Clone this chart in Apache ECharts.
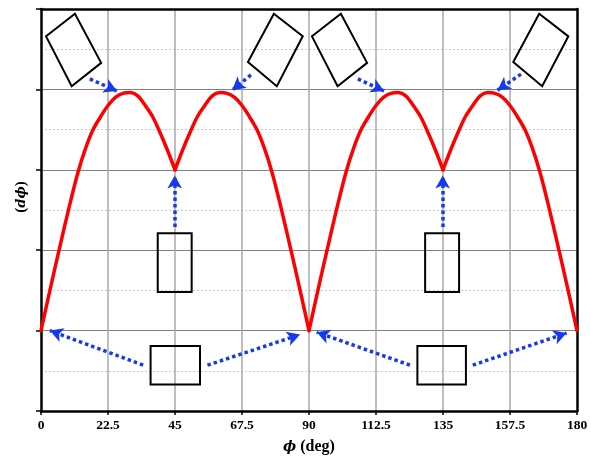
<!DOCTYPE html>
<html>
<head>
<meta charset="utf-8">
<script src="https://cdn.jsdelivr.net/npm/echarts@6/dist/echarts.min.js"></script>
<style>html,body{margin:0;padding:0;background:#fff}#c{width:591px;height:460px}</style>
</head>
<body>
<div id="c"></div>
<script>
// ---- data ----
const phi = [0,2.5,5,7.5,10,12.5,15,17.5,20,22.5,25,27.5,30,32.5,35,37.5,40,42.5,45,
  47.5,50,52.5,55,57.5,60,62.5,65,67.5,70,72.5,75,77.5,80,82.5,85,87.5,90,
  92.5,95,97.5,100,102.5,105,107.5,110,112.5,115,117.5,120,122.5,125,127.5,130,132.5,135,
  137.5,140,142.5,145,147.5,150,152.5,155,157.5,160,162.5,165,167.5,170,172.5,175,177.5,180];
const dphi = [1.0,1.42,1.83,2.23,2.62,2.98,3.27,3.5,3.66,3.8,3.9,3.95,3.96,3.92,3.8,3.66,3.46,3.24,3.0,
  3.24,3.46,3.66,3.8,3.92,3.96,3.95,3.9,3.8,3.66,3.5,3.27,2.98,2.62,2.23,1.83,1.42,1.0,
  1.42,1.83,2.23,2.62,2.98,3.27,3.5,3.66,3.8,3.9,3.95,3.96,3.92,3.8,3.66,3.46,3.24,3.0,
  3.24,3.46,3.66,3.8,3.92,3.96,3.95,3.9,3.8,3.66,3.5,3.27,2.98,2.62,2.23,1.83,1.42,1.0];
// cusp positions (curve is smooth between them)
const cusps = [0,45,90,135,180];
const xTicks = [0,22.5,45,67.5,90,112.5,135,157.5,180];

// annotation boxes (corners in data units: [phi, value])
const boxes = [
  [[1.7,4.66],[11.4,4.94],[20.2,4.33],[10.3,4.04]],
  [[78.2,4.94],[87.9,4.66],[79.2,4.04],[69.5,4.34]],
  [[91.0,4.66],[100.7,4.94],[109.5,4.33],[99.6,4.04]],
  [[167.3,4.94],[177.1,4.66],[168.3,4.04],[158.6,4.34]],
  [[39.2,2.21],[50.6,2.21],[50.6,1.48],[39.2,1.48]],
  [[129.0,2.21],[140.4,2.21],[140.4,1.48],[129.0,1.48]],
  [[36.8,0.81],[53.4,0.81],[53.4,0.33],[36.8,0.33]],
  [[126.4,0.81],[142.7,0.81],[142.7,0.33],[126.4,0.33]]
];
// annotation arrows: [from, to]
const arrows = [
  [[16.4,4.13],[25.5,3.98]],
  [[70.5,4.18],[64.2,3.99]],
  [[106.4,4.13],[115.2,3.98]],
  [[161.2,4.19],[153.3,3.99]],
  [[44.9,2.29],[44.9,2.93]],
  [[134.9,2.29],[134.9,2.93]],
  [[34.3,0.57],[3.0,1.0]],
  [[55.9,0.57],[87.0,0.95]],
  [[123.9,0.57],[92.6,0.98]],
  [[145.0,0.57],[176.5,0.97]]
];

const chart = echarts.init(document.getElementById('c'), null, {renderer:'canvas'});
const labelFont = {fontFamily:'Liberation Serif', fontWeight:'bold', fontSize:13.5, color:'#000'};

const humps = [];
for (let k = 0; k < cusps.length - 1; k++) {
  const seg = [];
  phi.forEach((p,i)=>{ if (p >= cusps[k] && p <= cusps[k+1]) seg.push([p, dphi[i]]); });
  humps.push({
    type:'line', xAxisIndex:0, yAxisIndex:0, data:seg,
    showSymbol:false, symbol:'none', smooth:0.35,
    lineStyle:{color:'#ff0000', width:3.5, join:'round', cap:'round'}, z:3, silent:true
  });
}

humps[0].markLine = {
  silent:true, animation:false,
  symbol:['none','arrow'], symbolSize:[11,13],
  label:{show:false},
  lineStyle:{color:'#1538f0', width:3.5, type:[3.5,3], opacity:1},
  emphasis:{disabled:true},
  data:arrows.map(a=>[{coord:a[0]},{coord:a[1]}])
};

chart.setOption({
  animation:false,
  backgroundColor:'#fff',
  grid:{left:41, right:14, top:9, bottom:49, show:false},
  xAxis:[{
    type:'value', min:0, max:180, interval:22.5,
    axisLine:{show:true, onZero:false, lineStyle:{color:'#000', width:2.5}},
    axisTick:{show:true, length:4, lineStyle:{color:'#000', width:1.5}},
    axisLabel:Object.assign({margin:8, formatter:v=>String(v)}, labelFont),
    splitLine:{show:true, showMinLine:false, showMaxLine:false, lineStyle:{color:'#a8a8a8', width:1.5}},
    name:'{i|ϕ} (deg)', nameLocation:'middle', nameGap:28,
    nameTextStyle:{fontFamily:'Liberation Serif', fontWeight:'bold', fontSize:16, color:'#000',
      rich:{i:{fontFamily:'DejaVu Serif', fontStyle:'italic', fontWeight:'bold', fontSize:14, color:'#000'}}}
  },{
    type:'value', position:'top', min:0, max:180, interval:22.5,
    axisLine:{show:true, onZero:false, lineStyle:{color:'#000', width:2.5}},
    axisTick:{show:false}, axisLabel:{show:false}, splitLine:{show:false}
  }],
  yAxis:[{
    type:'value', min:0, max:5, interval:1,
    axisLine:{show:true, onZero:false, lineStyle:{color:'#000', width:2.5}},
    axisTick:{show:true, length:5, lineStyle:{color:'#000', width:1.5}},
    axisLabel:{show:false},
    splitLine:{show:true, showMinLine:false, showMaxLine:false, lineStyle:{color:'#808080', width:1}},
    minorTick:{show:false, splitNumber:2},
    minorSplitLine:{show:true, lineStyle:{color:'#c8c8c8', width:1, type:[2,2]}},
    name:'({i|dϕ})', nameLocation:'middle', nameGap:12, nameRotate:90,
    nameTextStyle:{fontFamily:'Liberation Serif', fontWeight:'bold', fontSize:15, color:'#000', padding:[0,0,0,26],
      rich:{i:{fontFamily:'DejaVu Serif', fontStyle:'italic', fontWeight:'bold', fontSize:13, color:'#000'}}}
  },{
    type:'value', position:'right', min:0, max:5, interval:1,
    axisLine:{show:true, onZero:false, lineStyle:{color:'#000', width:2.5}},
    axisTick:{show:false}, axisLabel:{show:false}, splitLine:{show:false}
  }],
  series:humps.concat([{
    type:'custom', xAxisIndex:0, yAxisIndex:0, silent:true, z:4,
    data:boxes.map((b,i)=>[i,0]),
    renderItem:function(params, api){
      const pts = boxes[params.dataIndex].map(p=>api.coord(p));
      return {type:'polygon', shape:{points:pts}, style:{fill:'none', stroke:'#000', lineWidth:2}};
    }
  }])
});
</script>
</body>
</html>
